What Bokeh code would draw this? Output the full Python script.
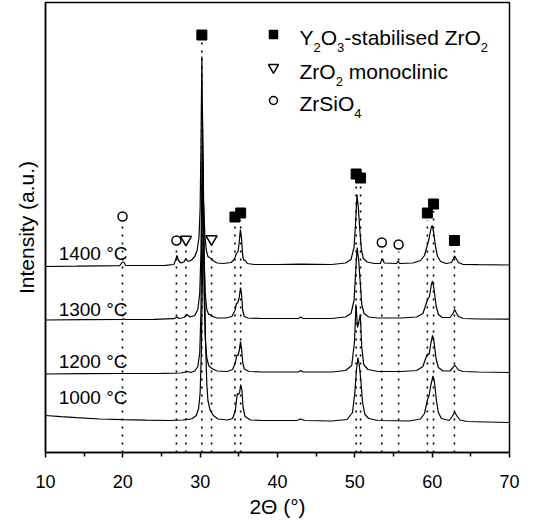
from bokeh.plotting import figure
from bokeh.models import FixedTicker, Range1d
from bokeh.layouts import column
from bokeh.embed import file_html
from bokeh.resources import INLINE
from bokeh.core.properties import value

# ---------------- data ----------------
theta_1400 = [10.0, 14.0, 17.0, 19.6, 19.9, 20.1, 20.4, 23.0, 25.5, 26.6, 26.85, 27.0, 27.2, 27.5, 27.9,
              28.15, 28.45, 28.9, 29.3, 29.6, 29.85, 30.0, 30.12, 30.22, 30.32, 30.45, 30.6, 30.8, 31.0,
              31.3, 31.5, 31.7, 32.2, 33.0, 34.0, 34.4, 34.7, 34.9, 35.05, 35.2, 35.35, 35.5, 35.65, 35.8,
              36.1, 37.0, 40.0, 43.0, 47.0, 48.8, 49.5, 49.9, 50.1, 50.28, 50.45, 50.65, 50.85, 51.1, 51.6,
              52.5, 53.3, 53.5, 53.6, 53.8, 55.4, 55.6, 55.8, 57.5, 58.5, 59.0, 59.3, 59.6, 59.85, 60.0,
              60.2, 60.45, 60.7, 61.1, 61.8, 62.5, 62.75, 62.9, 63.1, 63.4, 64.0, 66.0, 70.0]
int_1400 = [186.0, 186.3, 186.6, 186.8, 190.0, 190.5, 187.0, 187.0, 187.2, 188.0, 193.0, 197.0, 192.0, 189.5, 190.5,
            194.0, 191.0, 192.5, 196.0, 202.0, 215.0, 245.0, 320.0, 396.0, 320.0, 250.0, 218.0, 202.0, 196.0,
            194.5, 194.0, 191.5, 189.5, 189.0, 190.0, 193.0, 199.0, 201.0, 210.0, 223.0, 214.0, 197.0, 192.0, 192.5,
            189.0, 188.0, 188.0, 188.3, 188.0, 189.5, 193.0, 205.0, 230.0, 258.0, 245.0, 222.0, 203.0, 194.0, 190.5,
            189.0, 189.0, 193.0, 193.5, 189.5, 189.0, 191.5, 189.0, 189.5, 192.0, 197.0, 205.0, 214.0, 224.0, 227.0,
            220.0, 205.0, 196.0, 191.0, 189.0, 190.0, 194.0, 196.5, 194.0, 190.0, 188.0, 187.8, 187.5]

theta_1300 = [10.0, 15.0, 20.0, 20.1, 20.3, 24.0, 26.6, 27.0, 27.3, 27.9, 28.3, 28.7, 29.3, 29.7, 29.95,
              30.1, 30.2, 30.3, 30.4, 30.5, 30.65, 30.85, 31.1, 31.3, 31.6, 32.2, 33.3, 34.1, 34.5, 34.7,
              34.85, 35.05, 35.22, 35.35, 35.5, 35.7, 36.2, 38.0, 42.7, 43.0, 43.3, 47.0, 48.8, 49.5, 49.9,
              50.1, 50.3, 50.5, 50.7, 50.9, 51.2, 51.8, 53.0, 56.0, 58.0, 58.8, 59.2, 59.4, 59.65, 59.9,
              60.05, 60.25, 60.5, 60.8, 61.3, 62.3, 62.7, 62.9, 63.1, 63.4, 64.0, 66.0, 70.0]
int_1300 = [132.5, 132.8, 133.0, 133.8, 133.0, 133.2, 133.8, 135.5, 134.0, 135.0, 138.0, 135.5, 137.0, 143.0, 160.0,
            200.0, 260.0, 335.0, 270.0, 200.0, 160.0, 143.0, 138.0, 138.0, 136.0, 134.5, 134.5, 136.0, 142.0, 149.0,
            149.5, 155.0, 165.0, 158.0, 142.0, 136.0, 134.5, 134.0, 134.0, 135.5, 134.0, 134.0, 135.5, 139.0, 152.0,
            180.0, 205.0, 192.0, 170.0, 148.0, 139.0, 135.5, 134.5, 134.5, 135.5, 139.0, 148.0, 153.0, 156.0, 168.0,
            171.5, 163.0, 147.0, 138.0, 135.0, 135.0, 139.0, 143.0, 140.0, 136.0, 134.0, 133.5, 133.3]

theta_1200 = [10.0, 15.0, 20.0, 25.0, 27.5, 28.1, 28.4, 28.8, 29.3, 29.7, 29.95, 30.1, 30.2, 30.3, 30.4,
              30.5, 30.65, 30.85, 31.1, 31.5, 32.2, 33.5, 34.2, 34.55, 34.75, 34.9, 35.05, 35.22, 35.35, 35.5,
              35.7, 36.3, 38.0, 42.7, 43.0, 43.3, 47.0, 48.8, 49.6, 49.95, 50.15, 50.35, 50.5, 50.7, 50.9,
              51.15, 51.7, 53.0, 56.0, 58.0, 58.8, 59.2, 59.4, 59.6, 59.85, 60.05, 60.25, 60.5, 60.8, 61.4,
              62.3, 62.7, 62.9, 63.1, 63.4, 64.0, 66.0, 70.0]
int_1200 = [78.5, 78.8, 79.0, 79.2, 79.5, 80.5, 81.0, 80.0, 81.5, 86.0, 100.0, 140.0, 210.0, 300.0, 230.0,
            160.0, 115.0, 95.0, 87.0, 84.0, 81.5, 81.0, 83.0, 90.0, 97.5, 97.0, 102.0, 111.0, 104.0, 90.0,
            83.5, 81.0, 80.5, 80.5, 82.0, 80.5, 80.5, 82.0, 87.0, 110.0, 148.0, 125.0, 130.0, 138.0, 105.0,
            88.0, 83.0, 81.0, 81.0, 82.0, 86.0, 95.0, 98.5, 98.0, 110.0, 117.0, 110.0, 94.0, 85.0, 81.5,
            81.5, 85.0, 87.5, 85.5, 82.5, 81.0, 80.5, 80.0]

theta_1000 = [10.0, 12.0, 14.0, 17.0, 20.0, 23.0, 26.0, 27.8, 28.2, 28.5, 29.0, 29.5, 29.8, 30.0, 30.15,
              30.3, 30.42, 30.55, 30.7, 30.85, 31.0, 31.3, 31.7, 32.3, 33.5, 34.2, 34.55, 34.8, 34.95, 35.1,
              35.25, 35.4, 35.55, 35.8, 36.5, 38.0, 42.5, 43.0, 43.5, 47.0, 49.0, 49.7, 50.0, 50.2, 50.4,
              50.6, 50.8, 51.0, 51.3, 51.8, 53.0, 57.0, 58.5, 59.0, 59.4, 59.6, 59.85, 60.1, 60.3, 60.55,
              60.8, 61.2, 62.2, 62.6, 62.9, 63.2, 63.6, 64.5, 67.0, 70.0]
int_1000 = [37.0, 35.8, 34.8, 33.5, 32.8, 32.3, 32.0, 32.5, 33.5, 33.0, 34.0, 37.0, 44.0, 60.0, 100.0,
            180.0, 250.0, 180.0, 110.0, 70.0, 52.0, 42.0, 37.0, 33.5, 32.5, 34.0, 42.0, 59.0, 58.0, 60.0,
            68.0, 62.0, 45.0, 36.0, 32.5, 32.0, 32.0, 33.5, 32.0, 31.5, 33.0, 40.0, 60.0, 82.0, 95.0,
            86.0, 70.0, 50.0, 38.0, 34.0, 32.0, 31.5, 33.5, 39.0, 53.0, 57.0, 68.0, 76.5, 70.0, 52.0,
            40.0, 34.0, 32.0, 36.0, 40.5, 36.5, 32.5, 31.0, 30.5, 30.0]

temps = ["1400 \u00b0C", "1300 \u00b0C", "1200 \u00b0C", "1000 \u00b0C"]
temp_label_y = [199.5, 143.5, 91.5, 55.5]

# phase reflections: position (2theta) and marker height
ysz_theta = [30.22, 34.5, 35.24, 50.17, 50.74, 59.38, 60.18, 62.88]
ysz_mark = [417.5, 235.5, 239.5, 278.5, 274.5, 239.5, 248.5, 212.0]
mono_theta = [28.16, 31.47]
mono_mark = [213.0, 213.5]
zrsio_theta = [19.96, 26.93, 53.49, 55.66]
zrsio_mark = [236.0, 212.0, 210.0, 208.0]

legend_rows = [
    [("Y", False), ("2", True), ("O", False), ("3", True), ("-stabilised ZrO", False), ("2", True)],
    [("ZrO", False), ("2", True), (" monoclinic", False)],
    [("ZrSiO", False), ("4", True)],
]

x_ticks = [10, 20, 30, 40, 50, 60, 70]
x_minor = [15, 25, 35, 45, 55, 65]
x_tick_labels = ["10", "20", "30", "40", "50", "60", "70"]
x_title = "2\u0398 (\u00b0)"
y_title = "Intensity (a.u.)"

# ---------------- layout constants ----------------
FONT = "Liberation Sans"
W = 521
LEFT, RIGHT, TOP, BOTTOM = 45, 12, 2, 8
FRAME_H = 450
X0, X1 = 10, 70
Y0, Y1 = 0, 450
STRIP_H = 58

# ---------------- main plot ----------------
p = figure(width=W, height=TOP + FRAME_H + BOTTOM, x_range=Range1d(X0, X1), y_range=Range1d(Y0, Y1),
           output_backend="svg", toolbar_location=None,
           min_border_left=LEFT, min_border_right=RIGHT, min_border_top=TOP, min_border_bottom=BOTTOM)
p.background_fill_color = "white"
p.border_fill_color = "white"
p.grid.visible = False
p.outline_line_color = "black"
p.outline_line_width = 1.5

xa = p.xaxis[0]
xa.ticker = FixedTicker(ticks=x_ticks, minor_ticks=x_minor)
xa.axis_line_width = 1.5
xa.axis_line_color = "black"
xa.major_tick_line_width = 1.5
xa.minor_tick_line_width = 1.5
xa.major_tick_line_color = "black"
xa.minor_tick_line_color = "black"
xa.major_tick_in = 0
xa.major_tick_out = 5
xa.minor_tick_in = 0
xa.minor_tick_out = 4
xa.major_label_text_color = None   # tick labels are set in the strip below

ya = p.yaxis[0]
ya.ticker = FixedTicker(ticks=[])
ya.axis_line_width = 1.5
ya.axis_line_color = "black"
ya.major_tick_line_color = None
ya.minor_tick_line_color = None
ya.major_tick_in = 0
ya.major_tick_out = 0
ya.minor_tick_in = 0
ya.minor_tick_out = 0
ya.major_label_standoff = 0
ya.axis_label = y_title
ya.axis_label_text_font = FONT
ya.axis_label_text_font_size = "21px"
ya.axis_label_text_font_style = "normal"
ya.axis_label_text_color = "black"
ya.axis_label_standoff = 8

# dotted reference lines from the axis up to each marker
all_theta = ysz_theta + mono_theta + zrsio_theta
all_top = [m - 7 for m in ysz_mark + mono_mark + zrsio_mark]
p.segment(x0=all_theta, y0=[0] * len(all_theta), x1=all_theta, y1=all_top,
          line_color="black", line_width=1.6, line_dash="2 6")

# patterns
for th, it in [(theta_1000, int_1000), (theta_1200, int_1200),
               (theta_1300, int_1300), (theta_1400, int_1400)]:
    p.line(th, it, line_color="black", line_width=1.2)

# phase markers
p.scatter(ysz_theta, ysz_mark, marker="square", size=10, fill_color="black", line_color="black")
p.scatter(mono_theta, mono_mark, marker="inverted_triangle", size=11, fill_color="white",
          line_color="black", line_width=1.5)
p.scatter(zrsio_theta, zrsio_mark, marker="circle", size=9, fill_color="white",
          line_color="black", line_width=1.5)

# temperature labels
p.text(x=[11.7] * len(temps), y=temp_label_y, text=temps, text_font=value(FONT),
       text_font_size="19px", text_color="black", text_baseline="alphabetic", text_align="left")

# legend (custom, with subscripts)
WIDTHS = {'Y': .667, 'O': .778, '-': .333, 's': .5, 't': .278, 'a': .556, 'b': .556, 'i': .222,
          'l': .222, 'e': .556, 'd': .556, ' ': .278, 'Z': .611, 'r': .333, 'm': .833, 'o': .556,
          'n': .556, 'c': .5, 'S': .667, '2': .556, '3': .556, '4': .556}
MAIN, SUB = 21, 13
leg_marker_x = 39.48
leg_text_x = 42.85
leg_base_y = [415.0, 381.0, 349.0]
leg_marker_y = [418.0, 385.0, 352.0]
leg_markers = [("square", 8, "black"), ("inverted_triangle", 10, "white"), ("circle", 8, "white")]

for (mk, sz, fc), my in zip(leg_markers, leg_marker_y):
    p.scatter([leg_marker_x], [my], marker=mk, size=sz, fill_color=fc, line_color="black", line_width=1.5)

for row, base in zip(legend_rows, leg_base_y):
    off = 0.0
    mx, mxo, mt, sx, sxo, st = [], [], [], [], [], []
    for txt, is_sub in row:
        fs = SUB if is_sub else MAIN
        lead = len(txt) - len(txt.lstrip(" "))
        off += lead * WIDTHS[' '] * fs
        core = txt.lstrip(" ")
        if is_sub:
            sx.append(leg_text_x); sxo.append(off); st.append(core)
        else:
            mx.append(leg_text_x); mxo.append(off); mt.append(core)
        off += sum(WIDTHS.get(ch, .556) for ch in core) * fs
    p.text(x=mx, y=[base] * len(mx), x_offset=mxo, text=mt, text_font=value(FONT),
           text_font_size=f"{MAIN}px", text_color="black", text_baseline="alphabetic")
    p.text(x=sx, y=[base - 10] * len(sx), x_offset=sxo, text=st, text_font=value(FONT),
           text_font_size=f"{SUB}px", text_color="black", text_baseline="alphabetic")

# ---------------- strip below: tick labels and axis title on the same x scale ----------------
strip = figure(width=W, height=STRIP_H, x_range=p.x_range, y_range=Range1d(0, STRIP_H),
               x_axis_type=None, y_axis_type=None, output_backend="svg", toolbar_location=None,
               min_border_left=LEFT, min_border_right=RIGHT, min_border_top=0, min_border_bottom=0)
strip.outline_line_color = None
strip.background_fill_color = "white"
strip.border_fill_color = "white"
r_ticks = strip.text(x=x_ticks, y=[36.7] * len(x_ticks), text=x_tick_labels, text_font=value(FONT),
                     text_font_size="18px", text_color="black", text_align="center",
                     text_baseline="alphabetic")
r_title = strip.text(x=[(X0 + X1) / 2], y=[12.5], text=[x_title], text_font=value(FONT),
                     text_font_size="21px", text_color="black", text_align="center",
                     text_baseline="alphabetic")
r_ticks.level = "overlay"
r_title.level = "overlay"

layout = column(p, strip, spacing=0)
open("out.html", "w").write(file_html(layout, INLINE))
